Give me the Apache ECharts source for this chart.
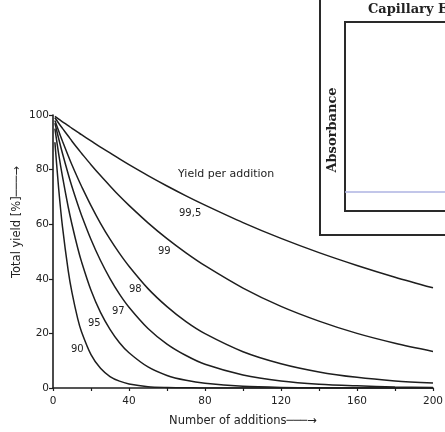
<!DOCTYPE html>
<html>
<head>
<meta charset="utf-8">
<script src="https://cdn.jsdelivr.net/npm/echarts@6/dist/echarts.min.js"></script>
<style>
  html, body { margin: 0; padding: 0; background: #fff; }
  #chart { width: 445px; height: 432px; }
</style>
</head>
<body>
<div id="chart"></div>
<script>
// number of additions (x) and total yield [%] per curve
const additions = [1, 3, 5, 8, 10, 13, 15, 20, 25, 30, 35, 40, 50, 60, 70, 80, 100, 120, 140, 160, 180, 200];
const yield995 = [99.5, 98.5, 97.5, 96.1, 95.1, 93.7, 92.8, 90.5, 88.2, 86.1, 83.9, 81.8, 77.8, 74.0, 70.4, 67.0, 60.6, 54.8, 49.6, 44.9, 40.6, 36.7];
const yield99 = [99.0, 97.0, 95.1, 92.3, 90.4, 87.7, 86.0, 81.8, 77.8, 74.0, 70.3, 66.9, 60.5, 54.7, 49.5, 44.8, 36.6, 29.9, 24.5, 20.0, 16.4, 13.4];
const yield98 = [98.0, 94.1, 90.4, 85.1, 81.7, 76.9, 73.9, 66.8, 60.3, 54.5, 49.3, 44.6, 36.4, 29.8, 24.3, 19.9, 13.3, 8.9, 5.9, 3.9, 2.6, 1.8];
const yield97 = [97.0, 91.3, 85.9, 78.4, 73.7, 67.3, 63.3, 54.4, 46.7, 40.1, 34.4, 29.6, 21.8, 16.1, 11.9, 8.7, 4.8, 2.6, 1.4, 0.8, 0.4, 0.2];
const yield95 = [95.0, 85.7, 77.4, 66.3, 59.9, 51.3, 46.3, 35.8, 27.7, 21.5, 16.6, 12.9, 7.7, 4.6, 2.8, 1.7, 0.6, 0.2, 0.1, 0, 0, 0];
const yield90 = [90.0, 72.9, 59.0, 43.0, 34.9, 25.4, 20.6, 12.2, 7.2, 4.2, 2.5, 1.5, 0.5, 0.2, 0.1, 0, 0, 0, 0, 0, 0, 0];

const xTickLabels = [0, 40, 80, 120, 160, 200];
const yTickLabels = [0, 20, 40, 60, 80, 100];

// inset (partial "Capillary Electrophoresis" panel): flat baseline trace
const insetTime = [0, 1];
const insetAbsorbance = [0.1, 0.1];

const curves = [
  { name: "99,5", values: yield995 },
  { name: "99", values: yield99 },
  { name: "98", values: yield98 },
  { name: "97", values: yield97 },
  { name: "95", values: yield95 },
  { name: "90", values: yield90 }
];

const ink = "#1e1e1e";
const fontMain = '"DejaVu Sans", sans-serif';
const fontSerif = '"DejaVu Serif", "Liberation Serif", serif';

let chartDom = document.getElementById("chart");
let myChart = echarts.init(chartDom);
let option;

const lineSeries = curves.map(c => ({
  name: c.name,
  type: "line",
  xAxisIndex: 0,
  yAxisIndex: 0,
  data: additions.map((n, i) => [n, c.values[i]]),
  showSymbol: false,
  smooth: 0.3,
  lineStyle: { color: ink, width: 1.5 },
  silent: true
}));

function curveLabel(text, x, y, size) {
  return {
    type: "text",
    x: x,
    y: y,
    style: {
      text: text,
      font: size + "px " + fontMain,
      fill: "#222",
      align: "left",
      verticalAlign: "middle"
    }
  };
}

option = {
  animation: false,
  backgroundColor: "#fff",
  title: {
    text: "Capillary Electrophoresis",
    left: 368,
    top: 3,
    padding: 0,
    textStyle: { fontFamily: fontSerif, fontWeight: "bold", fontSize: 13, color: "#222" }
  },
  grid: [
    { left: 53, right: 12, top: 115, bottom: 44, outerBoundsMode: "none", containLabel: false },
    {
      left: 320, right: -20, top: -20, bottom: 197, outerBoundsMode: "none",
      show: true, backgroundColor: "rgba(0,0,0,0)", borderColor: "#2a2a2a", borderWidth: 2
    },
    {
      left: 345, right: -20, top: 22, bottom: 221, outerBoundsMode: "none",
      show: true, backgroundColor: "rgba(0,0,0,0)", borderColor: "#2a2a2a", borderWidth: 2
    }
  ],
  xAxis: [
    {
      gridIndex: 0,
      type: "value",
      min: 0,
      max: 200,
      interval: 20,
      name: "Number of additions\u2500\u2500\u2500\u2192",
      nameLocation: "middle",
      nameGap: 27,
      nameTextStyle: { fontFamily: fontMain, fontSize: 11.5, color: "#222" },
      axisLine: { show: true, lineStyle: { color: ink, width: 1.6 } },
      axisTick: { show: true, length: 3, lineStyle: { color: ink, width: 1.2 } },
      axisLabel: {
        margin: 8,
        fontFamily: fontMain,
        fontSize: 10.5,
        color: "#222",
        formatter: v => (xTickLabels.includes(v) ? String(v) : "")
      },
      splitLine: { show: false }
    },
    { gridIndex: 1, type: "value", min: 0, max: 1, show: false },
    { gridIndex: 2, type: "value", min: 0, max: 1, show: false }
  ],
  yAxis: [
    {
      gridIndex: 0,
      type: "value",
      min: 0,
      max: 100,
      interval: 20,
      axisLine: { show: true, lineStyle: { color: ink, width: 1.6 } },
      axisTick: { show: true, length: 4, lineStyle: { color: ink, width: 1.2 } },
      axisLabel: {
        margin: 4,
        fontFamily: fontMain,
        fontSize: 10.5,
        color: "#222",
        formatter: v => (yTickLabels.includes(v) ? String(v) : "")
      },
      splitLine: { show: false }
    },
    { gridIndex: 1, type: "value", min: 0, max: 1, show: false },
    { gridIndex: 2, type: "value", min: 0, max: 1, show: false }
  ],
  series: lineSeries.concat([
    {
      name: "baseline",
      type: "line",
      xAxisIndex: 2,
      yAxisIndex: 2,
      data: insetTime.map((t, i) => [t, insetAbsorbance[i]]),
      showSymbol: false,
      lineStyle: { color: "#aeb3e2", width: 1.5 },
      silent: true
    }
  ]),
  graphic: [
    {
      type: "text",
      x: 17,
      y: 222,
      rotation: Math.PI / 2,
      style: {
        text: "Total yield [%]\u2500\u2500\u2500\u2192",
        font: "11.5px " + fontMain,
        fill: "#222",
        align: "center",
        verticalAlign: "middle"
      }
    },
    {
      type: "text",
      x: 333,
      y: 130,
      rotation: Math.PI / 2,
      style: {
        text: "Absorbance",
        font: "bold 13px " + fontSerif,
        fill: "#222",
        align: "center",
        verticalAlign: "middle"
      }
    },
    curveLabel("Yield per addition", 178, 174, 11),
    curveLabel("99,5", 179, 213, 10),
    curveLabel("99", 158, 251, 10),
    curveLabel("98", 129, 289, 10),
    curveLabel("97", 112, 311, 10),
    curveLabel("95", 88, 323, 10),
    curveLabel("90", 71, 349, 10)
  ]
};

option && myChart.setOption(option);
</script>
</body>
</html>
